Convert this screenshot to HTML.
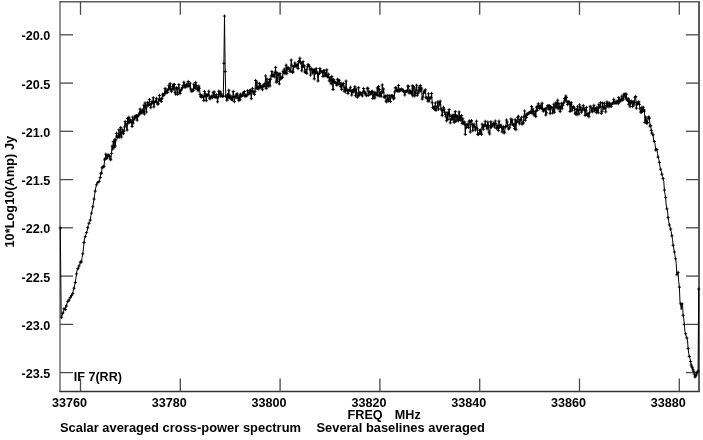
<!DOCTYPE html>
<html>
<head>
<meta charset="utf-8">
<title>Scalar averaged cross-power spectrum</title>
<style>
html,body{margin:0;padding:0;background:#fff;}
body{width:703px;height:440px;overflow:hidden;}
svg{display:block;will-change:transform;opacity:0.999;}
text{font-family:"Liberation Sans",sans-serif;font-weight:bold;font-size:12.6px;fill:#000;}
</style>
</head>
<body>
<svg width="703" height="440" viewBox="0 0 703 440">
<rect x="0" y="0" width="703" height="440" fill="#fff"/>
<!-- frame -->
<g fill="none" stroke="#5c5c5c" stroke-width="1.5">
<line x1="60" y1="1.8" x2="60" y2="391.4" stroke="#666" stroke-width="1.4"/>
<line x1="59.3" y1="1.8" x2="699.8" y2="1.8"/>
<line x1="699" y1="1.8" x2="699" y2="391.4" stroke-width="2"/>
<line x1="59.3" y1="391.4" x2="699.8" y2="391.4" stroke="#333"/>
</g>
<!-- ticks -->
<g fill="none" stroke="#4a4a4a" stroke-width="1.3">
<line x1="60" y1="34.8" x2="73" y2="34.8"/>
<line x1="686" y1="34.8" x2="699" y2="34.8"/>
<line x1="60" y1="83.1" x2="73" y2="83.1"/>
<line x1="686" y1="83.1" x2="699" y2="83.1"/>
<line x1="60" y1="131.3" x2="73" y2="131.3"/>
<line x1="686" y1="131.3" x2="699" y2="131.3"/>
<line x1="60" y1="179.6" x2="73" y2="179.6"/>
<line x1="686" y1="179.6" x2="699" y2="179.6"/>
<line x1="60" y1="227.8" x2="73" y2="227.8"/>
<line x1="686" y1="227.8" x2="699" y2="227.8"/>
<line x1="60" y1="276.1" x2="73" y2="276.1"/>
<line x1="686" y1="276.1" x2="699" y2="276.1"/>
<line x1="60" y1="324.4" x2="73" y2="324.4"/>
<line x1="686" y1="324.4" x2="699" y2="324.4"/>
<line x1="60" y1="372.6" x2="73" y2="372.6"/>
<line x1="686" y1="372.6" x2="699" y2="372.6"/>
<line x1="80.5" y1="1.8" x2="80.5" y2="14.8"/>
<line x1="80.5" y1="378.5" x2="80.5" y2="391.4"/>
<line x1="180.3" y1="1.8" x2="180.3" y2="14.8"/>
<line x1="180.3" y1="378.5" x2="180.3" y2="391.4"/>
<line x1="280.1" y1="1.8" x2="280.1" y2="14.8"/>
<line x1="280.1" y1="378.5" x2="280.1" y2="391.4"/>
<line x1="379.9" y1="1.8" x2="379.9" y2="14.8"/>
<line x1="379.9" y1="378.5" x2="379.9" y2="391.4"/>
<line x1="479.7" y1="1.8" x2="479.7" y2="14.8"/>
<line x1="479.7" y1="378.5" x2="479.7" y2="391.4"/>
<line x1="579.5" y1="1.8" x2="579.5" y2="14.8"/>
<line x1="579.5" y1="378.5" x2="579.5" y2="391.4"/>
<line x1="679.3" y1="1.8" x2="679.3" y2="14.8"/>
<line x1="679.3" y1="378.5" x2="679.3" y2="391.4"/>
</g>
<!-- data -->
<path d="M60.3,228.0 L61.2,317.2 L61.5,317.2 L62.2,315.3 L62.8,313.0 L63.4,313.5 L64.0,308.7 L64.7,309.3 L65.3,309.4 L65.9,305.1 L66.5,306.0 L67.2,302.7 L67.8,301.4 L68.4,302.1 L69.0,300.0 L69.7,298.5 L70.3,297.6 L70.9,295.7 L71.5,295.6 L72.2,294.5 L72.8,293.6 L73.4,289.9 L74.0,288.2 L74.7,284.8 L75.3,282.5 L75.9,278.2 L76.5,273.9 L77.1,270.0 L77.8,268.7 L78.4,269.4 L79.0,265.9 L79.6,265.5 L80.3,262.1 L80.9,260.7 L81.5,261.9 L82.1,257.5 L82.8,253.8 L83.4,249.0 L84.0,242.5 L84.6,238.2 L85.3,236.7 L85.9,234.5 L86.5,232.6 L87.1,231.0 L87.8,227.7 L88.4,224.5 L89.0,223.3 L89.6,221.9 L90.3,220.0 L90.9,215.4 L91.5,213.1 L92.1,210.0 L92.8,206.8 L93.4,203.0 L94.0,199.1 L94.6,194.6 L95.2,191.1 L95.9,187.0 L96.5,184.8 L97.1,183.8 L97.7,182.6 L98.4,182.3 L99.0,181.5 L99.6,180.3 L100.2,177.6 L100.9,173.4 L101.5,172.9 L102.1,167.8 L102.7,167.2 L103.4,166.4 L104.0,166.6 L104.6,159.9 L105.2,158.6 L105.9,154.1 L106.5,158.2 L107.1,157.9 L107.7,155.5 L108.4,155.2 L109.0,155.3 L109.6,156.4 L110.2,159.0 L110.8,159.8 L111.5,153.4 L112.1,146.1 L112.7,149.1 L113.3,141.7 L114.0,147.6 L114.6,139.8 L115.2,146.0 L115.8,139.9 L116.5,133.3 L117.1,136.2 L117.7,137.3 L118.3,136.7 L119.0,129.7 L119.6,137.1 L120.2,134.9 L120.8,127.5 L121.5,137.0 L122.1,132.2 L122.7,129.9 L123.3,133.7 L124.0,131.1 L124.6,126.9 L125.2,121.5 L125.8,123.7 L126.4,125.7 L127.1,130.1 L127.7,118.5 L128.3,123.0 L128.9,117.2 L129.6,122.1 L130.2,119.7 L130.8,122.0 L131.4,121.4 L132.1,126.5 L132.7,117.1 L133.3,123.0 L133.9,119.6 L134.6,118.0 L135.2,116.0 L135.8,117.1 L136.4,115.6 L137.1,120.2 L137.7,116.7 L138.3,115.2 L138.9,114.7 L139.6,112.8 L140.2,109.0 L140.8,113.6 L141.4,112.0 L142.1,111.1 L142.7,110.0 L143.3,113.0 L143.9,105.2 L144.5,114.0 L145.2,102.9 L145.8,107.1 L146.4,112.0 L147.0,105.3 L147.7,102.4 L148.3,105.5 L148.9,105.0 L149.5,99.5 L150.2,104.6 L150.8,107.7 L151.4,103.7 L152.0,101.5 L152.7,102.8 L153.3,97.7 L153.9,106.9 L154.5,102.7 L155.2,101.3 L155.8,101.4 L156.4,98.3 L157.0,102.5 L157.7,104.2 L158.3,103.7 L158.9,99.7 L159.5,95.5 L160.1,100.8 L160.8,99.3 L161.4,101.4 L162.0,98.4 L162.6,94.2 L163.3,95.6 L163.9,95.0 L164.5,93.4 L165.1,88.4 L165.8,93.2 L166.4,91.8 L167.0,90.0 L167.6,92.5 L168.3,89.2 L168.9,85.4 L169.5,88.9 L170.1,83.6 L170.8,89.1 L171.4,91.6 L172.0,89.6 L172.6,86.6 L173.3,84.5 L173.9,89.3 L174.5,84.5 L175.1,92.4 L175.7,94.2 L176.4,87.8 L177.0,88.5 L177.6,94.3 L178.2,88.2 L178.9,84.6 L179.5,92.3 L180.1,93.6 L180.7,90.4 L181.4,89.8 L182.0,88.0 L182.6,87.6 L183.2,85.5 L183.9,82.2 L184.5,85.4 L185.1,87.6 L185.7,86.1 L186.4,84.3 L187.0,86.6 L187.6,85.0 L188.2,81.5 L188.9,86.1 L189.5,86.0 L190.1,83.1 L190.7,88.9 L191.3,91.0 L192.0,91.2 L192.6,90.0 L193.2,90.6 L193.8,84.2 L194.5,86.3 L195.1,88.7 L195.7,82.5 L196.3,85.5 L197.0,87.8 L197.6,89.4 L198.2,90.8 L198.8,86.0 L199.5,88.2 L200.1,94.6 L200.7,96.3 L201.3,97.2 L202.0,95.3 L202.6,96.5 L203.2,96.9 L203.8,100.6 L204.5,91.5 L205.1,93.9 L205.7,96.1 L206.3,100.7 L207.0,94.6 L207.6,95.4 L208.2,95.2 L208.8,91.2 L209.4,98.0 L210.1,98.9 L210.7,97.6 L211.3,96.1 L211.9,96.5 L212.6,97.7 L213.2,92.3 L213.8,96.3 L214.4,92.0 L215.1,97.3 L215.7,96.9 L216.3,94.6 L216.9,97.3 L217.6,101.8 L218.2,96.9 L218.8,91.2 L219.4,94.6 L220.1,91.7 L220.7,96.2 L221.3,93.9 L221.9,95.7 L222.6,96.4 L223.3,96.0 L223.9,63.4 L224.5,16.1 L225.2,71.6 L225.8,96.4 L226.3,96.7 L226.9,100.3 L227.5,94.7 L228.2,97.9 L228.8,90.2 L229.4,97.7 L230.0,95.3 L230.7,97.4 L231.3,99.4 L231.9,97.0 L232.5,99.8 L233.2,91.5 L233.8,96.4 L234.4,101.7 L235.0,97.0 L235.7,96.5 L236.3,94.1 L236.9,97.8 L237.5,94.0 L238.2,98.3 L238.8,100.6 L239.4,95.9 L240.0,99.8 L240.6,94.2 L241.3,96.3 L241.9,95.6 L242.5,95.5 L243.1,93.0 L243.8,93.3 L244.4,91.5 L245.0,96.5 L245.6,95.3 L246.3,95.7 L246.9,95.8 L247.5,90.8 L248.1,94.1 L248.8,93.4 L249.4,90.6 L250.0,93.8 L250.6,90.2 L251.3,98.7 L251.9,91.6 L252.5,88.4 L253.1,91.5 L253.8,93.0 L254.4,94.4 L255.0,91.3 L255.6,80.5 L256.3,88.3 L256.9,82.1 L257.5,88.4 L258.1,86.8 L258.7,89.0 L259.4,83.5 L260.0,87.6 L260.6,85.5 L261.2,86.8 L261.9,87.9 L262.5,89.7 L263.1,85.0 L263.7,86.2 L264.4,84.0 L265.0,86.3 L265.6,75.9 L266.2,88.6 L266.9,78.9 L267.5,83.7 L268.1,86.7 L268.7,82.8 L269.4,79.5 L270.0,85.9 L270.6,79.3 L271.2,76.0 L271.9,71.5 L272.5,75.7 L273.1,75.9 L273.7,74.5 L274.3,76.8 L275.0,72.6 L275.6,67.4 L276.2,82.2 L276.8,72.5 L277.5,81.6 L278.1,74.6 L278.7,74.2 L279.3,83.9 L280.0,73.6 L280.6,79.1 L281.2,78.1 L281.8,77.1 L282.5,77.3 L283.1,71.2 L283.7,72.8 L284.3,69.1 L285.0,73.7 L285.6,72.4 L286.2,65.1 L286.8,73.7 L287.5,68.0 L288.1,68.3 L288.7,68.0 L289.3,69.8 L289.9,71.4 L290.6,71.1 L291.2,60.0 L291.8,65.2 L292.4,72.4 L293.1,72.0 L293.7,66.5 L294.3,66.2 L294.9,62.9 L295.6,65.6 L296.2,66.8 L296.8,65.4 L297.4,64.3 L298.1,68.6 L298.7,61.5 L299.3,61.0 L299.9,58.2 L300.6,62.9 L301.2,62.9 L301.8,70.8 L302.4,66.7 L303.1,61.7 L303.7,66.6 L304.3,65.8 L304.9,72.0 L305.6,72.5 L306.2,69.4 L306.8,73.4 L307.4,66.8 L308.0,64.6 L308.7,65.1 L309.3,66.4 L309.9,69.2 L310.5,75.1 L311.2,68.3 L311.8,69.6 L312.4,73.0 L313.0,69.6 L313.7,71.4 L314.3,78.9 L314.9,69.6 L315.5,73.1 L316.2,68.6 L316.8,71.8 L317.4,73.6 L318.0,81.0 L318.7,74.1 L319.3,73.4 L319.9,68.5 L320.5,71.1 L321.2,71.7 L321.8,71.2 L322.4,72.3 L323.0,76.5 L323.6,70.8 L324.3,70.6 L324.9,75.9 L325.5,73.3 L326.1,75.6 L326.8,69.8 L327.4,76.4 L328.0,77.2 L328.6,74.2 L329.3,81.0 L329.9,77.6 L330.5,79.6 L331.1,83.8 L331.8,76.4 L332.4,80.8 L333.0,89.5 L333.6,79.4 L334.3,81.3 L334.9,82.5 L335.5,82.6 L336.1,83.3 L336.8,85.2 L337.4,79.3 L338.0,84.4 L338.6,80.4 L339.2,80.2 L339.9,84.0 L340.5,86.7 L341.1,83.0 L341.7,89.4 L342.4,84.7 L343.0,85.3 L343.6,83.4 L344.2,91.2 L344.9,87.4 L345.5,91.8 L346.1,81.0 L346.7,89.4 L347.4,90.3 L348.0,93.5 L348.6,91.2 L349.2,89.8 L349.9,90.5 L350.5,87.3 L351.1,91.0 L351.7,95.1 L352.4,90.7 L353.0,92.3 L353.6,89.5 L354.2,91.0 L354.9,86.7 L355.5,95.7 L356.1,89.0 L356.7,93.1 L357.3,97.2 L358.0,95.8 L358.6,87.7 L359.2,95.2 L359.8,92.7 L360.5,93.0 L361.1,94.0 L361.7,94.3 L362.3,96.0 L363.0,92.1 L363.6,88.5 L364.2,91.3 L364.8,93.6 L365.5,93.5 L366.1,95.2 L366.7,95.7 L367.3,88.2 L368.0,88.4 L368.6,95.2 L369.2,91.5 L369.8,94.1 L370.5,93.4 L371.1,94.1 L371.7,91.5 L372.3,91.3 L372.9,98.5 L373.6,95.4 L374.2,92.3 L374.8,98.0 L375.4,93.0 L376.1,94.7 L376.7,94.3 L377.3,87.9 L377.9,95.7 L378.6,86.5 L379.2,89.5 L379.8,96.1 L380.4,92.5 L381.1,96.3 L381.7,92.3 L382.3,84.9 L382.9,92.6 L383.6,88.9 L384.2,97.3 L384.8,96.9 L385.4,96.1 L386.1,101.2 L386.7,101.9 L387.3,95.4 L387.9,99.1 L388.5,100.9 L389.2,95.5 L389.8,98.7 L390.4,101.4 L391.0,95.8 L391.7,95.7 L392.3,97.1 L392.9,95.4 L393.5,98.9 L394.2,98.0 L394.8,91.9 L395.4,87.8 L396.0,87.7 L396.7,90.6 L397.3,89.9 L397.9,91.4 L398.5,85.5 L399.2,91.2 L399.8,89.5 L400.4,89.8 L401.0,90.2 L401.7,89.1 L402.3,90.2 L402.9,90.0 L403.5,91.1 L404.1,92.0 L404.8,95.0 L405.4,91.6 L406.0,91.2 L406.6,91.2 L407.3,91.3 L407.9,85.9 L408.5,86.5 L409.1,93.1 L409.8,90.4 L410.4,92.3 L411.0,91.7 L411.6,93.9 L412.3,85.8 L412.9,95.9 L413.5,86.5 L414.1,87.8 L414.8,95.9 L415.4,92.9 L416.0,90.0 L416.6,85.2 L417.3,95.3 L417.9,93.4 L418.5,91.0 L419.1,87.2 L419.8,91.6 L420.4,85.5 L421.0,89.8 L421.6,88.1 L422.2,99.1 L422.9,97.0 L423.5,93.4 L424.1,91.2 L424.7,91.4 L425.4,89.8 L426.0,97.9 L426.6,97.7 L427.2,98.0 L427.9,101.1 L428.5,93.8 L429.1,101.1 L429.7,98.0 L430.4,98.1 L431.0,97.6 L431.6,93.4 L432.2,102.8 L432.9,107.5 L433.5,108.5 L434.1,106.7 L434.7,109.3 L435.4,103.0 L436.0,110.4 L436.6,107.1 L437.2,107.5 L437.8,101.8 L438.5,109.2 L439.1,102.2 L439.7,104.8 L440.3,101.2 L441.0,108.7 L441.6,110.0 L442.2,115.6 L442.8,110.5 L443.5,107.3 L444.1,109.1 L444.7,112.2 L445.3,114.5 L446.0,116.7 L446.6,120.8 L447.2,112.6 L447.8,119.4 L448.5,113.6 L449.1,109.6 L449.7,115.0 L450.3,122.9 L451.0,119.4 L451.6,116.5 L452.2,115.4 L452.8,119.6 L453.4,115.1 L454.1,122.3 L454.7,115.9 L455.3,111.6 L455.9,121.4 L456.6,115.9 L457.2,116.0 L457.8,119.7 L458.4,120.7 L459.1,111.9 L459.7,118.8 L460.3,117.1 L460.9,120.6 L461.6,115.6 L462.2,123.5 L462.8,118.7 L463.4,122.7 L464.1,124.1 L464.7,122.0 L465.3,134.4 L465.9,124.5 L466.6,127.5 L467.2,125.0 L467.8,124.0 L468.4,127.4 L469.1,121.3 L469.7,121.0 L470.3,132.1 L470.9,121.6 L471.5,120.6 L472.2,124.5 L472.8,130.7 L473.4,126.2 L474.0,124.1 L474.7,126.8 L475.3,130.1 L475.9,127.7 L476.5,121.2 L477.2,128.7 L477.8,134.5 L478.4,134.3 L479.0,133.6 L479.7,130.6 L480.3,129.9 L480.9,133.2 L481.5,134.4 L482.2,124.2 L482.8,127.4 L483.4,129.2 L484.0,125.3 L484.7,125.4 L485.3,121.3 L485.9,125.4 L486.5,126.7 L487.1,128.9 L487.8,122.0 L488.4,125.5 L489.0,132.1 L489.6,134.0 L490.3,127.0 L490.9,121.7 L491.5,127.1 L492.1,125.3 L492.8,125.4 L493.4,123.4 L494.0,123.4 L494.6,127.0 L495.3,121.0 L495.9,123.9 L496.5,128.2 L497.1,127.9 L497.8,125.8 L498.4,130.4 L499.0,121.1 L499.6,127.5 L500.3,125.6 L500.9,125.1 L501.5,127.0 L502.1,131.9 L502.7,128.6 L503.4,126.8 L504.0,132.9 L504.6,132.1 L505.2,127.0 L505.9,126.6 L506.5,120.0 L507.1,122.0 L507.7,125.3 L508.4,129.0 L509.0,127.7 L509.6,127.8 L510.2,124.8 L510.9,119.0 L511.5,122.2 L512.1,119.9 L512.7,124.1 L513.4,125.4 L514.0,124.3 L514.6,128.7 L515.2,119.4 L515.9,129.7 L516.5,121.5 L517.1,121.9 L517.7,117.4 L518.4,116.3 L519.0,122.1 L519.6,123.8 L520.2,119.6 L520.8,120.0 L521.5,117.3 L522.1,124.2 L522.7,122.8 L523.3,123.0 L524.0,116.6 L524.6,111.0 L525.2,120.3 L525.8,115.6 L526.5,117.3 L527.1,113.8 L527.7,114.5 L528.3,113.6 L529.0,112.8 L529.6,112.7 L530.2,112.1 L530.8,112.3 L531.5,106.5 L532.1,113.3 L532.7,108.8 L533.3,111.0 L534.0,115.0 L534.6,114.8 L535.2,111.4 L535.8,116.6 L536.4,107.1 L537.1,110.5 L537.7,106.5 L538.3,103.8 L538.9,107.3 L539.6,108.7 L540.2,105.4 L540.8,107.4 L541.4,108.5 L542.1,103.2 L542.7,108.8 L543.3,111.2 L543.9,110.0 L544.6,109.5 L545.2,108.8 L545.8,115.0 L546.4,112.8 L547.1,107.7 L547.7,105.7 L548.3,105.9 L548.9,109.2 L549.6,105.6 L550.2,113.7 L550.8,106.9 L551.4,107.8 L552.0,107.6 L552.7,113.0 L553.3,110.8 L553.9,104.2 L554.5,112.2 L555.2,106.7 L555.8,103.0 L556.4,103.2 L557.0,107.9 L557.7,100.2 L558.3,108.8 L558.9,103.6 L559.5,107.7 L560.2,111.6 L560.8,106.7 L561.4,103.3 L562.0,108.8 L562.7,105.6 L563.3,103.7 L563.9,102.3 L564.5,98.6 L565.2,100.4 L565.8,96.0 L566.4,97.5 L567.0,101.8 L567.7,104.6 L568.3,101.7 L568.9,102.4 L569.5,102.2 L570.1,111.5 L570.8,104.4 L571.4,102.7 L572.0,110.6 L572.6,107.8 L573.3,106.6 L573.9,107.4 L574.5,108.8 L575.1,113.2 L575.8,114.1 L576.4,109.6 L577.0,114.7 L577.6,106.7 L578.3,110.3 L578.9,114.1 L579.5,104.8 L580.1,109.4 L580.8,107.3 L581.4,112.2 L582.0,110.3 L582.6,110.0 L583.3,105.5 L583.9,108.1 L584.5,109.6 L585.1,115.4 L585.7,110.5 L586.4,107.4 L587.0,114.6 L587.6,115.3 L588.2,113.7 L588.9,116.8 L589.5,112.8 L590.1,106.4 L590.7,106.8 L591.4,111.0 L592.0,108.4 L592.6,111.7 L593.2,108.2 L593.9,105.3 L594.5,110.8 L595.1,108.7 L595.7,109.0 L596.4,112.7 L597.0,107.2 L597.6,110.7 L598.2,112.7 L598.9,104.3 L599.5,107.1 L600.1,106.7 L600.7,102.6 L601.3,113.4 L602.0,111.6 L602.6,103.1 L603.2,107.1 L603.8,109.0 L604.5,103.3 L605.1,107.8 L605.7,111.9 L606.3,105.6 L607.0,101.9 L607.6,106.1 L608.2,103.3 L608.8,106.8 L609.5,103.1 L610.1,106.4 L610.7,104.4 L611.3,106.2 L612.0,103.5 L612.6,103.3 L613.2,103.4 L613.8,99.3 L614.5,103.0 L615.1,102.2 L615.7,102.9 L616.3,103.0 L616.9,101.0 L617.6,101.6 L618.2,103.7 L618.8,97.6 L619.4,101.8 L620.1,99.4 L620.7,101.0 L621.3,99.9 L621.9,96.1 L622.6,100.0 L623.2,99.2 L623.8,94.3 L624.4,95.9 L625.1,93.8 L625.7,97.9 L626.3,94.2 L626.9,99.8 L627.6,100.5 L628.2,98.6 L628.8,104.3 L629.4,100.6 L630.1,106.7 L630.7,102.8 L631.3,101.0 L631.9,102.7 L632.6,106.5 L633.2,101.6 L633.8,105.0 L634.4,102.5 L635.0,97.3 L635.7,96.5 L636.3,108.2 L636.9,102.6 L637.5,104.1 L638.2,103.2 L638.8,101.7 L639.4,104.3 L640.0,108.8 L640.7,112.0 L641.3,112.2 L641.9,107.4 L642.5,111.6 L643.2,107.2 L643.8,109.5 L644.4,111.0 L645.0,122.5 L645.7,117.1 L646.3,120.3 L646.9,123.6 L647.5,122.5 L648.2,118.1 L648.8,116.9 L649.4,118.2 L650.0,126.2 L650.6,125.4 L651.3,130.4 L651.9,133.0 L652.5,135.3 L653.1,134.8 L653.8,142.0 L654.4,141.5 L655.0,143.7 L655.6,149.9 L656.3,148.3 L656.9,149.5 L657.5,153.6 L658.1,157.1 L658.8,159.4 L659.4,162.5 L660.0,166.8 L660.6,169.2 L661.3,171.3 L661.9,174.2 L662.5,176.4 L663.1,178.6 L663.8,181.6 L664.4,190.1 L665.0,194.4 L665.6,197.3 L666.2,205.1 L666.9,208.9 L667.5,210.8 L668.1,217.6 L668.7,221.3 L669.4,225.0 L670.0,226.5 L670.6,229.0 L671.2,231.4 L671.9,235.8 L672.5,239.2 L673.1,245.3 L673.7,248.1 L674.4,252.0 L675.0,255.8 L675.6,258.8 L676.2,263.3 L676.9,274.7 L677.5,273.9 L678.1,272.4 L678.7,281.5 L679.4,287.2 L680.0,302.2 L680.6,303.8 L681.2,309.6 L681.9,303.8 L682.5,303.4 L683.1,315.3 L683.7,318.5 L684.3,324.4 L685.0,331.8 L685.6,333.8 L686.2,336.4 L686.8,337.8 L687.5,340.0 L688.1,348.5 L688.7,353.2 L689.3,356.5 L690.0,358.4 L690.6,361.5 L691.2,365.0 L691.8,366.9 L692.5,367.9 L693.1,370.0 L693.7,371.3 L694.3,374.2 L695.0,377.0 L695.6,376.0 L696.2,374.9 L696.8,373.0 L697.5,371.9 L698.1,371.3 L698.7,289.0" fill="none" stroke="#000" stroke-width="1.0" stroke-linejoin="miter"/>
<path d="M58.7,228.0h3.2M60.3,226.4v3.2M59.9,317.2h3.2M61.5,315.6v3.2M61.2,313.0h3.2M62.8,311.4v3.2M62.4,308.7h3.2M64.0,307.1v3.2M63.7,309.4h3.2M65.3,307.8v3.2M64.9,306.0h3.2M66.5,304.4v3.2M66.2,301.4h3.2M67.8,299.8v3.2M67.4,300.0h3.2M69.0,298.4v3.2M68.7,297.6h3.2M70.3,296.0v3.2M69.9,295.6h3.2M71.5,294.0v3.2M71.2,293.6h3.2M72.8,292.0v3.2M72.4,288.2h3.2M74.0,286.6v3.2M73.7,282.5h3.2M75.3,280.9v3.2M74.9,273.9h3.2M76.5,272.3v3.2M76.2,268.7h3.2M77.8,267.1v3.2M77.4,265.9h3.2M79.0,264.3v3.2M78.7,262.1h3.2M80.3,260.5v3.2M79.9,261.9h3.2M81.5,260.3v3.2M81.2,253.8h3.2M82.8,252.2v3.2M82.4,242.5h3.2M84.0,240.9v3.2M83.7,236.7h3.2M85.3,235.1v3.2M84.9,232.6h3.2M86.5,231.0v3.2M86.2,227.7h3.2M87.8,226.1v3.2M87.4,223.3h3.2M89.0,221.7v3.2M88.7,220.0h3.2M90.3,218.4v3.2M89.9,213.1h3.2M91.5,211.5v3.2M91.2,206.8h3.2M92.8,205.2v3.2M92.4,199.1h3.2M94.0,197.5v3.2M93.6,191.1h3.2M95.2,189.5v3.2M94.9,184.8h3.2M96.5,183.2v3.2M96.1,182.6h3.2M97.7,181.0v3.2M97.4,181.5h3.2M99.0,179.9v3.2M98.6,177.6h3.2M100.2,176.0v3.2M99.3,173.4h3.2M100.9,171.8v3.2M99.9,172.9h3.2M101.5,171.3v3.2M100.5,167.8h3.2M102.1,166.2v3.2M101.1,167.2h3.2M102.7,165.6v3.2M101.8,166.4h3.2M103.4,164.8v3.2M102.4,166.6h3.2M104.0,165.0v3.2M103.0,159.9h3.2M104.6,158.3v3.2M103.6,158.6h3.2M105.2,157.0v3.2M104.3,154.1h3.2M105.9,152.5v3.2M104.9,158.2h3.2M106.5,156.6v3.2M105.5,157.9h3.2M107.1,156.3v3.2M106.1,155.5h3.2M107.7,153.9v3.2M106.8,155.2h3.2M108.4,153.6v3.2M107.4,155.3h3.2M109.0,153.7v3.2M108.0,156.4h3.2M109.6,154.8v3.2M108.6,159.0h3.2M110.2,157.4v3.2M109.2,159.8h3.2M110.8,158.2v3.2M109.9,153.4h3.2M111.5,151.8v3.2M110.5,146.1h3.2M112.1,144.5v3.2M111.1,149.1h3.2M112.7,147.5v3.2M111.7,141.7h3.2M113.3,140.1v3.2M112.4,147.6h3.2M114.0,146.0v3.2M113.0,139.8h3.2M114.6,138.2v3.2M113.6,146.0h3.2M115.2,144.4v3.2M114.2,139.9h3.2M115.8,138.3v3.2M114.9,133.3h3.2M116.5,131.7v3.2M115.5,136.2h3.2M117.1,134.6v3.2M116.1,137.3h3.2M117.7,135.7v3.2M116.7,136.7h3.2M118.3,135.1v3.2M117.4,129.7h3.2M119.0,128.1v3.2M118.0,137.1h3.2M119.6,135.5v3.2M118.6,134.9h3.2M120.2,133.3v3.2M119.2,127.5h3.2M120.8,125.9v3.2M119.9,137.0h3.2M121.5,135.4v3.2M120.5,132.2h3.2M122.1,130.6v3.2M121.1,129.9h3.2M122.7,128.3v3.2M121.7,133.7h3.2M123.3,132.1v3.2M122.4,131.1h3.2M124.0,129.5v3.2M123.0,126.9h3.2M124.6,125.3v3.2M123.6,121.5h3.2M125.2,119.9v3.2M124.2,123.7h3.2M125.8,122.1v3.2M124.8,125.7h3.2M126.4,124.1v3.2M125.5,130.1h3.2M127.1,128.5v3.2M126.1,118.5h3.2M127.7,116.9v3.2M126.7,123.0h3.2M128.3,121.4v3.2M127.3,117.2h3.2M128.9,115.6v3.2M128.0,122.1h3.2M129.6,120.5v3.2M128.6,119.7h3.2M130.2,118.1v3.2M129.2,122.0h3.2M130.8,120.4v3.2M129.8,121.4h3.2M131.4,119.8v3.2M130.5,126.5h3.2M132.1,124.9v3.2M131.1,117.1h3.2M132.7,115.5v3.2M131.7,123.0h3.2M133.3,121.4v3.2M132.3,119.6h3.2M133.9,118.0v3.2M133.0,118.0h3.2M134.6,116.4v3.2M133.6,116.0h3.2M135.2,114.4v3.2M134.2,117.1h3.2M135.8,115.5v3.2M134.8,115.6h3.2M136.4,114.0v3.2M135.5,120.2h3.2M137.1,118.6v3.2M136.1,116.7h3.2M137.7,115.1v3.2M136.7,115.2h3.2M138.3,113.6v3.2M137.3,114.7h3.2M138.9,113.1v3.2M138.0,112.8h3.2M139.6,111.2v3.2M138.6,109.0h3.2M140.2,107.4v3.2M139.2,113.6h3.2M140.8,112.0v3.2M139.8,112.0h3.2M141.4,110.4v3.2M140.5,111.1h3.2M142.1,109.5v3.2M141.1,110.0h3.2M142.7,108.4v3.2M141.7,113.0h3.2M143.3,111.4v3.2M142.3,105.2h3.2M143.9,103.6v3.2M142.9,114.0h3.2M144.5,112.4v3.2M143.6,102.9h3.2M145.2,101.3v3.2M144.2,107.1h3.2M145.8,105.5v3.2M144.8,112.0h3.2M146.4,110.4v3.2M145.4,105.3h3.2M147.0,103.7v3.2M146.1,102.4h3.2M147.7,100.8v3.2M146.7,105.5h3.2M148.3,103.9v3.2M147.3,105.0h3.2M148.9,103.4v3.2M147.9,99.5h3.2M149.5,97.9v3.2M148.6,104.6h3.2M150.2,103.0v3.2M149.2,107.7h3.2M150.8,106.1v3.2M149.8,103.7h3.2M151.4,102.1v3.2M150.4,101.5h3.2M152.0,99.9v3.2M151.1,102.8h3.2M152.7,101.2v3.2M151.7,97.7h3.2M153.3,96.1v3.2M152.3,106.9h3.2M153.9,105.3v3.2M152.9,102.7h3.2M154.5,101.1v3.2M153.6,101.3h3.2M155.2,99.7v3.2M154.2,101.4h3.2M155.8,99.8v3.2M154.8,98.3h3.2M156.4,96.7v3.2M155.4,102.5h3.2M157.0,100.9v3.2M156.1,104.2h3.2M157.7,102.6v3.2M156.7,103.7h3.2M158.3,102.1v3.2M157.3,99.7h3.2M158.9,98.1v3.2M157.9,95.5h3.2M159.5,93.9v3.2M158.5,100.8h3.2M160.1,99.2v3.2M159.2,99.3h3.2M160.8,97.7v3.2M159.8,101.4h3.2M161.4,99.8v3.2M160.4,98.4h3.2M162.0,96.8v3.2M161.0,94.2h3.2M162.6,92.6v3.2M161.7,95.6h3.2M163.3,94.0v3.2M162.3,95.0h3.2M163.9,93.4v3.2M162.9,93.4h3.2M164.5,91.8v3.2M163.5,88.4h3.2M165.1,86.8v3.2M164.2,93.2h3.2M165.8,91.6v3.2M164.8,91.8h3.2M166.4,90.2v3.2M165.4,90.0h3.2M167.0,88.4v3.2M166.0,92.5h3.2M167.6,90.9v3.2M166.7,89.2h3.2M168.3,87.6v3.2M167.3,85.4h3.2M168.9,83.8v3.2M167.9,88.9h3.2M169.5,87.3v3.2M168.5,83.6h3.2M170.1,82.0v3.2M169.2,89.1h3.2M170.8,87.5v3.2M169.8,91.6h3.2M171.4,90.0v3.2M170.4,89.6h3.2M172.0,88.0v3.2M171.0,86.6h3.2M172.6,85.0v3.2M171.7,84.5h3.2M173.3,82.9v3.2M172.3,89.3h3.2M173.9,87.7v3.2M172.9,84.5h3.2M174.5,82.9v3.2M173.5,92.4h3.2M175.1,90.8v3.2M174.1,94.2h3.2M175.7,92.6v3.2M174.8,87.8h3.2M176.4,86.2v3.2M175.4,88.5h3.2M177.0,86.9v3.2M176.0,94.3h3.2M177.6,92.7v3.2M176.6,88.2h3.2M178.2,86.6v3.2M177.3,84.6h3.2M178.9,83.0v3.2M177.9,92.3h3.2M179.5,90.7v3.2M178.5,93.6h3.2M180.1,92.0v3.2M179.1,90.4h3.2M180.7,88.8v3.2M179.8,89.8h3.2M181.4,88.2v3.2M180.4,88.0h3.2M182.0,86.4v3.2M181.0,87.6h3.2M182.6,86.0v3.2M181.6,85.5h3.2M183.2,83.9v3.2M182.3,82.2h3.2M183.9,80.6v3.2M182.9,85.4h3.2M184.5,83.8v3.2M183.5,87.6h3.2M185.1,86.0v3.2M184.1,86.1h3.2M185.7,84.5v3.2M184.8,84.3h3.2M186.4,82.7v3.2M185.4,86.6h3.2M187.0,85.0v3.2M186.0,85.0h3.2M187.6,83.4v3.2M186.6,81.5h3.2M188.2,79.9v3.2M187.3,86.1h3.2M188.9,84.5v3.2M187.9,86.0h3.2M189.5,84.4v3.2M188.5,83.1h3.2M190.1,81.5v3.2M189.1,88.9h3.2M190.7,87.3v3.2M189.7,91.0h3.2M191.3,89.4v3.2M190.4,91.2h3.2M192.0,89.6v3.2M191.0,90.0h3.2M192.6,88.4v3.2M191.6,90.6h3.2M193.2,89.0v3.2M192.2,84.2h3.2M193.8,82.6v3.2M192.9,86.3h3.2M194.5,84.7v3.2M193.5,88.7h3.2M195.1,87.1v3.2M194.1,82.5h3.2M195.7,80.9v3.2M194.7,85.5h3.2M196.3,83.9v3.2M195.4,87.8h3.2M197.0,86.2v3.2M196.0,89.4h3.2M197.6,87.8v3.2M196.6,90.8h3.2M198.2,89.2v3.2M197.2,86.0h3.2M198.8,84.4v3.2M197.9,88.2h3.2M199.5,86.6v3.2M198.5,94.6h3.2M200.1,93.0v3.2M199.1,96.3h3.2M200.7,94.7v3.2M199.7,97.2h3.2M201.3,95.6v3.2M200.4,95.3h3.2M202.0,93.7v3.2M201.0,96.5h3.2M202.6,94.9v3.2M201.6,96.9h3.2M203.2,95.3v3.2M202.2,100.6h3.2M203.8,99.0v3.2M202.9,91.5h3.2M204.5,89.9v3.2M203.5,93.9h3.2M205.1,92.3v3.2M204.1,96.1h3.2M205.7,94.5v3.2M204.7,100.7h3.2M206.3,99.1v3.2M205.4,94.6h3.2M207.0,93.0v3.2M206.0,95.4h3.2M207.6,93.8v3.2M206.6,95.2h3.2M208.2,93.6v3.2M207.2,91.2h3.2M208.8,89.6v3.2M207.8,98.0h3.2M209.4,96.4v3.2M208.5,98.9h3.2M210.1,97.3v3.2M209.1,97.6h3.2M210.7,96.0v3.2M209.7,96.1h3.2M211.3,94.5v3.2M210.3,96.5h3.2M211.9,94.9v3.2M211.0,97.7h3.2M212.6,96.1v3.2M211.6,92.3h3.2M213.2,90.7v3.2M212.2,96.3h3.2M213.8,94.7v3.2M212.8,92.0h3.2M214.4,90.4v3.2M213.5,97.3h3.2M215.1,95.7v3.2M214.1,96.9h3.2M215.7,95.3v3.2M214.7,94.6h3.2M216.3,93.0v3.2M215.3,97.3h3.2M216.9,95.7v3.2M216.0,101.8h3.2M217.6,100.2v3.2M216.6,96.9h3.2M218.2,95.3v3.2M217.2,91.2h3.2M218.8,89.6v3.2M217.8,94.6h3.2M219.4,93.0v3.2M218.5,91.7h3.2M220.1,90.1v3.2M219.1,96.2h3.2M220.7,94.6v3.2M219.7,93.9h3.2M221.3,92.3v3.2M220.3,95.7h3.2M221.9,94.1v3.2M221.0,96.4h3.2M222.6,94.8v3.2M221.7,96.0h3.2M223.3,94.4v3.2M222.3,63.4h3.2M223.9,61.8v3.2M222.9,16.1h3.2M224.5,14.5v3.2M223.6,71.6h3.2M225.2,70.0v3.2M224.2,96.4h3.2M225.8,94.8v3.2M224.7,96.7h3.2M226.3,95.1v3.2M225.3,100.3h3.2M226.9,98.7v3.2M225.9,94.7h3.2M227.5,93.1v3.2M226.6,97.9h3.2M228.2,96.3v3.2M227.2,90.2h3.2M228.8,88.6v3.2M227.8,97.7h3.2M229.4,96.1v3.2M228.4,95.3h3.2M230.0,93.7v3.2M229.1,97.4h3.2M230.7,95.8v3.2M229.7,99.4h3.2M231.3,97.8v3.2M230.3,97.0h3.2M231.9,95.4v3.2M230.9,99.8h3.2M232.5,98.2v3.2M231.6,91.5h3.2M233.2,89.9v3.2M232.2,96.4h3.2M233.8,94.8v3.2M232.8,101.7h3.2M234.4,100.1v3.2M233.4,97.0h3.2M235.0,95.4v3.2M234.1,96.5h3.2M235.7,94.9v3.2M234.7,94.1h3.2M236.3,92.5v3.2M235.3,97.8h3.2M236.9,96.2v3.2M235.9,94.0h3.2M237.5,92.4v3.2M236.6,98.3h3.2M238.2,96.7v3.2M237.2,100.6h3.2M238.8,99.0v3.2M237.8,95.9h3.2M239.4,94.3v3.2M238.4,99.8h3.2M240.0,98.2v3.2M239.0,94.2h3.2M240.6,92.6v3.2M239.7,96.3h3.2M241.3,94.7v3.2M240.3,95.6h3.2M241.9,94.0v3.2M240.9,95.5h3.2M242.5,93.9v3.2M241.5,93.0h3.2M243.1,91.4v3.2M242.2,93.3h3.2M243.8,91.7v3.2M242.8,91.5h3.2M244.4,89.9v3.2M243.4,96.5h3.2M245.0,94.9v3.2M244.0,95.3h3.2M245.6,93.7v3.2M244.7,95.7h3.2M246.3,94.1v3.2M245.3,95.8h3.2M246.9,94.2v3.2M245.9,90.8h3.2M247.5,89.2v3.2M246.5,94.1h3.2M248.1,92.5v3.2M247.2,93.4h3.2M248.8,91.8v3.2M247.8,90.6h3.2M249.4,89.0v3.2M248.4,93.8h3.2M250.0,92.2v3.2M249.0,90.2h3.2M250.6,88.6v3.2M249.7,98.7h3.2M251.3,97.1v3.2M250.3,91.6h3.2M251.9,90.0v3.2M250.9,88.4h3.2M252.5,86.8v3.2M251.5,91.5h3.2M253.1,89.9v3.2M252.2,93.0h3.2M253.8,91.4v3.2M252.8,94.4h3.2M254.4,92.8v3.2M253.4,91.3h3.2M255.0,89.7v3.2M254.0,80.5h3.2M255.6,78.9v3.2M254.7,88.3h3.2M256.3,86.7v3.2M255.3,82.1h3.2M256.9,80.5v3.2M255.9,88.4h3.2M257.5,86.8v3.2M256.5,86.8h3.2M258.1,85.2v3.2M257.1,89.0h3.2M258.7,87.4v3.2M257.8,83.5h3.2M259.4,81.9v3.2M258.4,87.6h3.2M260.0,86.0v3.2M259.0,85.5h3.2M260.6,83.9v3.2M259.6,86.8h3.2M261.2,85.2v3.2M260.3,87.9h3.2M261.9,86.3v3.2M260.9,89.7h3.2M262.5,88.1v3.2M261.5,85.0h3.2M263.1,83.4v3.2M262.1,86.2h3.2M263.7,84.6v3.2M262.8,84.0h3.2M264.4,82.4v3.2M263.4,86.3h3.2M265.0,84.7v3.2M264.0,75.9h3.2M265.6,74.3v3.2M264.6,88.6h3.2M266.2,87.0v3.2M265.3,78.9h3.2M266.9,77.3v3.2M265.9,83.7h3.2M267.5,82.1v3.2M266.5,86.7h3.2M268.1,85.1v3.2M267.1,82.8h3.2M268.7,81.2v3.2M267.8,79.5h3.2M269.4,77.9v3.2M268.4,85.9h3.2M270.0,84.3v3.2M269.0,79.3h3.2M270.6,77.7v3.2M269.6,76.0h3.2M271.2,74.4v3.2M270.3,71.5h3.2M271.9,69.9v3.2M270.9,75.7h3.2M272.5,74.1v3.2M271.5,75.9h3.2M273.1,74.3v3.2M272.1,74.5h3.2M273.7,72.9v3.2M272.7,76.8h3.2M274.3,75.2v3.2M273.4,72.6h3.2M275.0,71.0v3.2M274.0,67.4h3.2M275.6,65.8v3.2M274.6,82.2h3.2M276.2,80.6v3.2M275.2,72.5h3.2M276.8,70.9v3.2M275.9,81.6h3.2M277.5,80.0v3.2M276.5,74.6h3.2M278.1,73.0v3.2M277.1,74.2h3.2M278.7,72.6v3.2M277.7,83.9h3.2M279.3,82.3v3.2M278.4,73.6h3.2M280.0,72.0v3.2M279.0,79.1h3.2M280.6,77.5v3.2M279.6,78.1h3.2M281.2,76.5v3.2M280.2,77.1h3.2M281.8,75.5v3.2M280.9,77.3h3.2M282.5,75.7v3.2M281.5,71.2h3.2M283.1,69.6v3.2M282.1,72.8h3.2M283.7,71.2v3.2M282.7,69.1h3.2M284.3,67.5v3.2M283.4,73.7h3.2M285.0,72.1v3.2M284.0,72.4h3.2M285.6,70.8v3.2M284.6,65.1h3.2M286.2,63.5v3.2M285.2,73.7h3.2M286.8,72.1v3.2M285.9,68.0h3.2M287.5,66.4v3.2M286.5,68.3h3.2M288.1,66.7v3.2M287.1,68.0h3.2M288.7,66.4v3.2M287.7,69.8h3.2M289.3,68.2v3.2M288.3,71.4h3.2M289.9,69.8v3.2M289.0,71.1h3.2M290.6,69.5v3.2M289.6,60.0h3.2M291.2,58.4v3.2M290.2,65.2h3.2M291.8,63.6v3.2M290.8,72.4h3.2M292.4,70.8v3.2M291.5,72.0h3.2M293.1,70.4v3.2M292.1,66.5h3.2M293.7,64.9v3.2M292.7,66.2h3.2M294.3,64.6v3.2M293.3,62.9h3.2M294.9,61.3v3.2M294.0,65.6h3.2M295.6,64.0v3.2M294.6,66.8h3.2M296.2,65.2v3.2M295.2,65.4h3.2M296.8,63.8v3.2M295.8,64.3h3.2M297.4,62.7v3.2M296.5,68.6h3.2M298.1,67.0v3.2M297.1,61.5h3.2M298.7,59.9v3.2M297.7,61.0h3.2M299.3,59.4v3.2M298.3,58.2h3.2M299.9,56.6v3.2M299.0,62.9h3.2M300.6,61.3v3.2M299.6,62.9h3.2M301.2,61.3v3.2M300.2,70.8h3.2M301.8,69.2v3.2M300.8,66.7h3.2M302.4,65.1v3.2M301.5,61.7h3.2M303.1,60.1v3.2M302.1,66.6h3.2M303.7,65.0v3.2M302.7,65.8h3.2M304.3,64.2v3.2M303.3,72.0h3.2M304.9,70.4v3.2M304.0,72.5h3.2M305.6,70.9v3.2M304.6,69.4h3.2M306.2,67.8v3.2M305.2,73.4h3.2M306.8,71.8v3.2M305.8,66.8h3.2M307.4,65.2v3.2M306.4,64.6h3.2M308.0,63.0v3.2M307.1,65.1h3.2M308.7,63.5v3.2M307.7,66.4h3.2M309.3,64.8v3.2M308.3,69.2h3.2M309.9,67.6v3.2M308.9,75.1h3.2M310.5,73.5v3.2M309.6,68.3h3.2M311.2,66.7v3.2M310.2,69.6h3.2M311.8,68.0v3.2M310.8,73.0h3.2M312.4,71.4v3.2M311.4,69.6h3.2M313.0,68.0v3.2M312.1,71.4h3.2M313.7,69.8v3.2M312.7,78.9h3.2M314.3,77.3v3.2M313.3,69.6h3.2M314.9,68.0v3.2M313.9,73.1h3.2M315.5,71.5v3.2M314.6,68.6h3.2M316.2,67.0v3.2M315.2,71.8h3.2M316.8,70.2v3.2M315.8,73.6h3.2M317.4,72.0v3.2M316.4,81.0h3.2M318.0,79.4v3.2M317.1,74.1h3.2M318.7,72.5v3.2M317.7,73.4h3.2M319.3,71.8v3.2M318.3,68.5h3.2M319.9,66.9v3.2M318.9,71.1h3.2M320.5,69.5v3.2M319.6,71.7h3.2M321.2,70.1v3.2M320.2,71.2h3.2M321.8,69.6v3.2M320.8,72.3h3.2M322.4,70.7v3.2M321.4,76.5h3.2M323.0,74.9v3.2M322.0,70.8h3.2M323.6,69.2v3.2M322.7,70.6h3.2M324.3,69.0v3.2M323.3,75.9h3.2M324.9,74.3v3.2M323.9,73.3h3.2M325.5,71.7v3.2M324.5,75.6h3.2M326.1,74.0v3.2M325.2,69.8h3.2M326.8,68.2v3.2M325.8,76.4h3.2M327.4,74.8v3.2M326.4,77.2h3.2M328.0,75.6v3.2M327.0,74.2h3.2M328.6,72.6v3.2M327.7,81.0h3.2M329.3,79.4v3.2M328.3,77.6h3.2M329.9,76.0v3.2M328.9,79.6h3.2M330.5,78.0v3.2M329.5,83.8h3.2M331.1,82.2v3.2M330.2,76.4h3.2M331.8,74.8v3.2M330.8,80.8h3.2M332.4,79.2v3.2M331.4,89.5h3.2M333.0,87.9v3.2M332.0,79.4h3.2M333.6,77.8v3.2M332.7,81.3h3.2M334.3,79.7v3.2M333.3,82.5h3.2M334.9,80.9v3.2M333.9,82.6h3.2M335.5,81.0v3.2M334.5,83.3h3.2M336.1,81.7v3.2M335.2,85.2h3.2M336.8,83.6v3.2M335.8,79.3h3.2M337.4,77.7v3.2M336.4,84.4h3.2M338.0,82.8v3.2M337.0,80.4h3.2M338.6,78.8v3.2M337.6,80.2h3.2M339.2,78.6v3.2M338.3,84.0h3.2M339.9,82.4v3.2M338.9,86.7h3.2M340.5,85.1v3.2M339.5,83.0h3.2M341.1,81.4v3.2M340.1,89.4h3.2M341.7,87.8v3.2M340.8,84.7h3.2M342.4,83.1v3.2M341.4,85.3h3.2M343.0,83.7v3.2M342.0,83.4h3.2M343.6,81.8v3.2M342.6,91.2h3.2M344.2,89.6v3.2M343.3,87.4h3.2M344.9,85.8v3.2M343.9,91.8h3.2M345.5,90.2v3.2M344.5,81.0h3.2M346.1,79.4v3.2M345.1,89.4h3.2M346.7,87.8v3.2M345.8,90.3h3.2M347.4,88.7v3.2M346.4,93.5h3.2M348.0,91.9v3.2M347.0,91.2h3.2M348.6,89.6v3.2M347.6,89.8h3.2M349.2,88.2v3.2M348.3,90.5h3.2M349.9,88.9v3.2M348.9,87.3h3.2M350.5,85.7v3.2M349.5,91.0h3.2M351.1,89.4v3.2M350.1,95.1h3.2M351.7,93.5v3.2M350.8,90.7h3.2M352.4,89.1v3.2M351.4,92.3h3.2M353.0,90.7v3.2M352.0,89.5h3.2M353.6,87.9v3.2M352.6,91.0h3.2M354.2,89.4v3.2M353.3,86.7h3.2M354.9,85.1v3.2M353.9,95.7h3.2M355.5,94.1v3.2M354.5,89.0h3.2M356.1,87.4v3.2M355.1,93.1h3.2M356.7,91.5v3.2M355.7,97.2h3.2M357.3,95.6v3.2M356.4,95.8h3.2M358.0,94.2v3.2M357.0,87.7h3.2M358.6,86.1v3.2M357.6,95.2h3.2M359.2,93.6v3.2M358.2,92.7h3.2M359.8,91.1v3.2M358.9,93.0h3.2M360.5,91.4v3.2M359.5,94.0h3.2M361.1,92.4v3.2M360.1,94.3h3.2M361.7,92.7v3.2M360.7,96.0h3.2M362.3,94.4v3.2M361.4,92.1h3.2M363.0,90.5v3.2M362.0,88.5h3.2M363.6,86.9v3.2M362.6,91.3h3.2M364.2,89.7v3.2M363.2,93.6h3.2M364.8,92.0v3.2M363.9,93.5h3.2M365.5,91.9v3.2M364.5,95.2h3.2M366.1,93.6v3.2M365.1,95.7h3.2M366.7,94.1v3.2M365.7,88.2h3.2M367.3,86.6v3.2M366.4,88.4h3.2M368.0,86.8v3.2M367.0,95.2h3.2M368.6,93.6v3.2M367.6,91.5h3.2M369.2,89.9v3.2M368.2,94.1h3.2M369.8,92.5v3.2M368.9,93.4h3.2M370.5,91.8v3.2M369.5,94.1h3.2M371.1,92.5v3.2M370.1,91.5h3.2M371.7,89.9v3.2M370.7,91.3h3.2M372.3,89.7v3.2M371.3,98.5h3.2M372.9,96.9v3.2M372.0,95.4h3.2M373.6,93.8v3.2M372.6,92.3h3.2M374.2,90.7v3.2M373.2,98.0h3.2M374.8,96.4v3.2M373.8,93.0h3.2M375.4,91.4v3.2M374.5,94.7h3.2M376.1,93.1v3.2M375.1,94.3h3.2M376.7,92.7v3.2M375.7,87.9h3.2M377.3,86.3v3.2M376.3,95.7h3.2M377.9,94.1v3.2M377.0,86.5h3.2M378.6,84.9v3.2M377.6,89.5h3.2M379.2,87.9v3.2M378.2,96.1h3.2M379.8,94.5v3.2M378.8,92.5h3.2M380.4,90.9v3.2M379.5,96.3h3.2M381.1,94.7v3.2M380.1,92.3h3.2M381.7,90.7v3.2M380.7,84.9h3.2M382.3,83.3v3.2M381.3,92.6h3.2M382.9,91.0v3.2M382.0,88.9h3.2M383.6,87.3v3.2M382.6,97.3h3.2M384.2,95.7v3.2M383.2,96.9h3.2M384.8,95.3v3.2M383.8,96.1h3.2M385.4,94.5v3.2M384.5,101.2h3.2M386.1,99.6v3.2M385.1,101.9h3.2M386.7,100.3v3.2M385.7,95.4h3.2M387.3,93.8v3.2M386.3,99.1h3.2M387.9,97.5v3.2M386.9,100.9h3.2M388.5,99.3v3.2M387.6,95.5h3.2M389.2,93.9v3.2M388.2,98.7h3.2M389.8,97.1v3.2M388.8,101.4h3.2M390.4,99.8v3.2M389.4,95.8h3.2M391.0,94.2v3.2M390.1,95.7h3.2M391.7,94.1v3.2M390.7,97.1h3.2M392.3,95.5v3.2M391.3,95.4h3.2M392.9,93.8v3.2M391.9,98.9h3.2M393.5,97.3v3.2M392.6,98.0h3.2M394.2,96.4v3.2M393.2,91.9h3.2M394.8,90.3v3.2M393.8,87.8h3.2M395.4,86.2v3.2M394.4,87.7h3.2M396.0,86.1v3.2M395.1,90.6h3.2M396.7,89.0v3.2M395.7,89.9h3.2M397.3,88.3v3.2M396.3,91.4h3.2M397.9,89.8v3.2M396.9,85.5h3.2M398.5,83.9v3.2M397.6,91.2h3.2M399.2,89.6v3.2M398.2,89.5h3.2M399.8,87.9v3.2M398.8,89.8h3.2M400.4,88.2v3.2M399.4,90.2h3.2M401.0,88.6v3.2M400.1,89.1h3.2M401.7,87.5v3.2M400.7,90.2h3.2M402.3,88.6v3.2M401.3,90.0h3.2M402.9,88.4v3.2M401.9,91.1h3.2M403.5,89.5v3.2M402.5,92.0h3.2M404.1,90.4v3.2M403.2,95.0h3.2M404.8,93.4v3.2M403.8,91.6h3.2M405.4,90.0v3.2M404.4,91.2h3.2M406.0,89.6v3.2M405.0,91.2h3.2M406.6,89.6v3.2M405.7,91.3h3.2M407.3,89.7v3.2M406.3,85.9h3.2M407.9,84.3v3.2M406.9,86.5h3.2M408.5,84.9v3.2M407.5,93.1h3.2M409.1,91.5v3.2M408.2,90.4h3.2M409.8,88.8v3.2M408.8,92.3h3.2M410.4,90.7v3.2M409.4,91.7h3.2M411.0,90.1v3.2M410.0,93.9h3.2M411.6,92.3v3.2M410.7,85.8h3.2M412.3,84.2v3.2M411.3,95.9h3.2M412.9,94.3v3.2M411.9,86.5h3.2M413.5,84.9v3.2M412.5,87.8h3.2M414.1,86.2v3.2M413.2,95.9h3.2M414.8,94.3v3.2M413.8,92.9h3.2M415.4,91.3v3.2M414.4,90.0h3.2M416.0,88.4v3.2M415.0,85.2h3.2M416.6,83.6v3.2M415.7,95.3h3.2M417.3,93.7v3.2M416.3,93.4h3.2M417.9,91.8v3.2M416.9,91.0h3.2M418.5,89.4v3.2M417.5,87.2h3.2M419.1,85.6v3.2M418.2,91.6h3.2M419.8,90.0v3.2M418.8,85.5h3.2M420.4,83.9v3.2M419.4,89.8h3.2M421.0,88.2v3.2M420.0,88.1h3.2M421.6,86.5v3.2M420.6,99.1h3.2M422.2,97.5v3.2M421.3,97.0h3.2M422.9,95.4v3.2M421.9,93.4h3.2M423.5,91.8v3.2M422.5,91.2h3.2M424.1,89.6v3.2M423.1,91.4h3.2M424.7,89.8v3.2M423.8,89.8h3.2M425.4,88.2v3.2M424.4,97.9h3.2M426.0,96.3v3.2M425.0,97.7h3.2M426.6,96.1v3.2M425.6,98.0h3.2M427.2,96.4v3.2M426.3,101.1h3.2M427.9,99.5v3.2M426.9,93.8h3.2M428.5,92.2v3.2M427.5,101.1h3.2M429.1,99.5v3.2M428.1,98.0h3.2M429.7,96.4v3.2M428.8,98.1h3.2M430.4,96.5v3.2M429.4,97.6h3.2M431.0,96.0v3.2M430.0,93.4h3.2M431.6,91.8v3.2M430.6,102.8h3.2M432.2,101.2v3.2M431.3,107.5h3.2M432.9,105.9v3.2M431.9,108.5h3.2M433.5,106.9v3.2M432.5,106.7h3.2M434.1,105.1v3.2M433.1,109.3h3.2M434.7,107.7v3.2M433.8,103.0h3.2M435.4,101.4v3.2M434.4,110.4h3.2M436.0,108.8v3.2M435.0,107.1h3.2M436.6,105.5v3.2M435.6,107.5h3.2M437.2,105.9v3.2M436.2,101.8h3.2M437.8,100.2v3.2M436.9,109.2h3.2M438.5,107.6v3.2M437.5,102.2h3.2M439.1,100.6v3.2M438.1,104.8h3.2M439.7,103.2v3.2M438.7,101.2h3.2M440.3,99.6v3.2M439.4,108.7h3.2M441.0,107.1v3.2M440.0,110.0h3.2M441.6,108.4v3.2M440.6,115.6h3.2M442.2,114.0v3.2M441.2,110.5h3.2M442.8,108.9v3.2M441.9,107.3h3.2M443.5,105.7v3.2M442.5,109.1h3.2M444.1,107.5v3.2M443.1,112.2h3.2M444.7,110.6v3.2M443.7,114.5h3.2M445.3,112.9v3.2M444.4,116.7h3.2M446.0,115.1v3.2M445.0,120.8h3.2M446.6,119.2v3.2M445.6,112.6h3.2M447.2,111.0v3.2M446.2,119.4h3.2M447.8,117.8v3.2M446.9,113.6h3.2M448.5,112.0v3.2M447.5,109.6h3.2M449.1,108.0v3.2M448.1,115.0h3.2M449.7,113.4v3.2M448.7,122.9h3.2M450.3,121.3v3.2M449.4,119.4h3.2M451.0,117.8v3.2M450.0,116.5h3.2M451.6,114.9v3.2M450.6,115.4h3.2M452.2,113.8v3.2M451.2,119.6h3.2M452.8,118.0v3.2M451.8,115.1h3.2M453.4,113.5v3.2M452.5,122.3h3.2M454.1,120.7v3.2M453.1,115.9h3.2M454.7,114.3v3.2M453.7,111.6h3.2M455.3,110.0v3.2M454.3,121.4h3.2M455.9,119.8v3.2M455.0,115.9h3.2M456.6,114.3v3.2M455.6,116.0h3.2M457.2,114.4v3.2M456.2,119.7h3.2M457.8,118.1v3.2M456.8,120.7h3.2M458.4,119.1v3.2M457.5,111.9h3.2M459.1,110.3v3.2M458.1,118.8h3.2M459.7,117.2v3.2M458.7,117.1h3.2M460.3,115.5v3.2M459.3,120.6h3.2M460.9,119.0v3.2M460.0,115.6h3.2M461.6,114.0v3.2M460.6,123.5h3.2M462.2,121.9v3.2M461.2,118.7h3.2M462.8,117.1v3.2M461.8,122.7h3.2M463.4,121.1v3.2M462.5,124.1h3.2M464.1,122.5v3.2M463.1,122.0h3.2M464.7,120.4v3.2M463.7,134.4h3.2M465.3,132.8v3.2M464.3,124.5h3.2M465.9,122.9v3.2M465.0,127.5h3.2M466.6,125.9v3.2M465.6,125.0h3.2M467.2,123.4v3.2M466.2,124.0h3.2M467.8,122.4v3.2M466.8,127.4h3.2M468.4,125.8v3.2M467.5,121.3h3.2M469.1,119.7v3.2M468.1,121.0h3.2M469.7,119.4v3.2M468.7,132.1h3.2M470.3,130.5v3.2M469.3,121.6h3.2M470.9,120.0v3.2M469.9,120.6h3.2M471.5,119.0v3.2M470.6,124.5h3.2M472.2,122.9v3.2M471.2,130.7h3.2M472.8,129.1v3.2M471.8,126.2h3.2M473.4,124.6v3.2M472.4,124.1h3.2M474.0,122.5v3.2M473.1,126.8h3.2M474.7,125.2v3.2M473.7,130.1h3.2M475.3,128.5v3.2M474.3,127.7h3.2M475.9,126.1v3.2M474.9,121.2h3.2M476.5,119.6v3.2M475.6,128.7h3.2M477.2,127.1v3.2M476.2,134.5h3.2M477.8,132.9v3.2M476.8,134.3h3.2M478.4,132.7v3.2M477.4,133.6h3.2M479.0,132.0v3.2M478.1,130.6h3.2M479.7,129.0v3.2M478.7,129.9h3.2M480.3,128.3v3.2M479.3,133.2h3.2M480.9,131.6v3.2M479.9,134.4h3.2M481.5,132.8v3.2M480.6,124.2h3.2M482.2,122.6v3.2M481.2,127.4h3.2M482.8,125.8v3.2M481.8,129.2h3.2M483.4,127.6v3.2M482.4,125.3h3.2M484.0,123.7v3.2M483.1,125.4h3.2M484.7,123.8v3.2M483.7,121.3h3.2M485.3,119.7v3.2M484.3,125.4h3.2M485.9,123.8v3.2M484.9,126.7h3.2M486.5,125.1v3.2M485.5,128.9h3.2M487.1,127.3v3.2M486.2,122.0h3.2M487.8,120.4v3.2M486.8,125.5h3.2M488.4,123.9v3.2M487.4,132.1h3.2M489.0,130.5v3.2M488.0,134.0h3.2M489.6,132.4v3.2M488.7,127.0h3.2M490.3,125.4v3.2M489.3,121.7h3.2M490.9,120.1v3.2M489.9,127.1h3.2M491.5,125.5v3.2M490.5,125.3h3.2M492.1,123.7v3.2M491.2,125.4h3.2M492.8,123.8v3.2M491.8,123.4h3.2M493.4,121.8v3.2M492.4,123.4h3.2M494.0,121.8v3.2M493.0,127.0h3.2M494.6,125.4v3.2M493.7,121.0h3.2M495.3,119.4v3.2M494.3,123.9h3.2M495.9,122.3v3.2M494.9,128.2h3.2M496.5,126.6v3.2M495.5,127.9h3.2M497.1,126.3v3.2M496.2,125.8h3.2M497.8,124.2v3.2M496.8,130.4h3.2M498.4,128.8v3.2M497.4,121.1h3.2M499.0,119.5v3.2M498.0,127.5h3.2M499.6,125.9v3.2M498.7,125.6h3.2M500.3,124.0v3.2M499.3,125.1h3.2M500.9,123.5v3.2M499.9,127.0h3.2M501.5,125.4v3.2M500.5,131.9h3.2M502.1,130.3v3.2M501.1,128.6h3.2M502.7,127.0v3.2M501.8,126.8h3.2M503.4,125.2v3.2M502.4,132.9h3.2M504.0,131.3v3.2M503.0,132.1h3.2M504.6,130.5v3.2M503.6,127.0h3.2M505.2,125.4v3.2M504.3,126.6h3.2M505.9,125.0v3.2M504.9,120.0h3.2M506.5,118.4v3.2M505.5,122.0h3.2M507.1,120.4v3.2M506.1,125.3h3.2M507.7,123.7v3.2M506.8,129.0h3.2M508.4,127.4v3.2M507.4,127.7h3.2M509.0,126.1v3.2M508.0,127.8h3.2M509.6,126.2v3.2M508.6,124.8h3.2M510.2,123.2v3.2M509.3,119.0h3.2M510.9,117.4v3.2M509.9,122.2h3.2M511.5,120.6v3.2M510.5,119.9h3.2M512.1,118.3v3.2M511.1,124.1h3.2M512.7,122.5v3.2M511.8,125.4h3.2M513.4,123.8v3.2M512.4,124.3h3.2M514.0,122.7v3.2M513.0,128.7h3.2M514.6,127.1v3.2M513.6,119.4h3.2M515.2,117.8v3.2M514.3,129.7h3.2M515.9,128.1v3.2M514.9,121.5h3.2M516.5,119.9v3.2M515.5,121.9h3.2M517.1,120.3v3.2M516.1,117.4h3.2M517.7,115.8v3.2M516.8,116.3h3.2M518.4,114.7v3.2M517.4,122.1h3.2M519.0,120.5v3.2M518.0,123.8h3.2M519.6,122.2v3.2M518.6,119.6h3.2M520.2,118.0v3.2M519.2,120.0h3.2M520.8,118.4v3.2M519.9,117.3h3.2M521.5,115.7v3.2M520.5,124.2h3.2M522.1,122.6v3.2M521.1,122.8h3.2M522.7,121.2v3.2M521.7,123.0h3.2M523.3,121.4v3.2M522.4,116.6h3.2M524.0,115.0v3.2M523.0,111.0h3.2M524.6,109.4v3.2M523.6,120.3h3.2M525.2,118.7v3.2M524.2,115.6h3.2M525.8,114.0v3.2M524.9,117.3h3.2M526.5,115.7v3.2M525.5,113.8h3.2M527.1,112.2v3.2M526.1,114.5h3.2M527.7,112.9v3.2M526.7,113.6h3.2M528.3,112.0v3.2M527.4,112.8h3.2M529.0,111.2v3.2M528.0,112.7h3.2M529.6,111.1v3.2M528.6,112.1h3.2M530.2,110.5v3.2M529.2,112.3h3.2M530.8,110.7v3.2M529.9,106.5h3.2M531.5,104.9v3.2M530.5,113.3h3.2M532.1,111.7v3.2M531.1,108.8h3.2M532.7,107.2v3.2M531.7,111.0h3.2M533.3,109.4v3.2M532.4,115.0h3.2M534.0,113.4v3.2M533.0,114.8h3.2M534.6,113.2v3.2M533.6,111.4h3.2M535.2,109.8v3.2M534.2,116.6h3.2M535.8,115.0v3.2M534.8,107.1h3.2M536.4,105.5v3.2M535.5,110.5h3.2M537.1,108.9v3.2M536.1,106.5h3.2M537.7,104.9v3.2M536.7,103.8h3.2M538.3,102.2v3.2M537.3,107.3h3.2M538.9,105.7v3.2M538.0,108.7h3.2M539.6,107.1v3.2M538.6,105.4h3.2M540.2,103.8v3.2M539.2,107.4h3.2M540.8,105.8v3.2M539.8,108.5h3.2M541.4,106.9v3.2M540.5,103.2h3.2M542.1,101.6v3.2M541.1,108.8h3.2M542.7,107.2v3.2M541.7,111.2h3.2M543.3,109.6v3.2M542.3,110.0h3.2M543.9,108.4v3.2M543.0,109.5h3.2M544.6,107.9v3.2M543.6,108.8h3.2M545.2,107.2v3.2M544.2,115.0h3.2M545.8,113.4v3.2M544.8,112.8h3.2M546.4,111.2v3.2M545.5,107.7h3.2M547.1,106.1v3.2M546.1,105.7h3.2M547.7,104.1v3.2M546.7,105.9h3.2M548.3,104.3v3.2M547.3,109.2h3.2M548.9,107.6v3.2M548.0,105.6h3.2M549.6,104.0v3.2M548.6,113.7h3.2M550.2,112.1v3.2M549.2,106.9h3.2M550.8,105.3v3.2M549.8,107.8h3.2M551.4,106.2v3.2M550.4,107.6h3.2M552.0,106.0v3.2M551.1,113.0h3.2M552.7,111.4v3.2M551.7,110.8h3.2M553.3,109.2v3.2M552.3,104.2h3.2M553.9,102.6v3.2M552.9,112.2h3.2M554.5,110.6v3.2M553.6,106.7h3.2M555.2,105.1v3.2M554.2,103.0h3.2M555.8,101.4v3.2M554.8,103.2h3.2M556.4,101.6v3.2M555.4,107.9h3.2M557.0,106.3v3.2M556.1,100.2h3.2M557.7,98.6v3.2M556.7,108.8h3.2M558.3,107.2v3.2M557.3,103.6h3.2M558.9,102.0v3.2M557.9,107.7h3.2M559.5,106.1v3.2M558.6,111.6h3.2M560.2,110.0v3.2M559.2,106.7h3.2M560.8,105.1v3.2M559.8,103.3h3.2M561.4,101.7v3.2M560.4,108.8h3.2M562.0,107.2v3.2M561.1,105.6h3.2M562.7,104.0v3.2M561.7,103.7h3.2M563.3,102.1v3.2M562.3,102.3h3.2M563.9,100.7v3.2M562.9,98.6h3.2M564.5,97.0v3.2M563.6,100.4h3.2M565.2,98.8v3.2M564.2,96.0h3.2M565.8,94.4v3.2M564.8,97.5h3.2M566.4,95.9v3.2M565.4,101.8h3.2M567.0,100.2v3.2M566.1,104.6h3.2M567.7,103.0v3.2M566.7,101.7h3.2M568.3,100.1v3.2M567.3,102.4h3.2M568.9,100.8v3.2M567.9,102.2h3.2M569.5,100.6v3.2M568.5,111.5h3.2M570.1,109.9v3.2M569.2,104.4h3.2M570.8,102.8v3.2M569.8,102.7h3.2M571.4,101.1v3.2M570.4,110.6h3.2M572.0,109.0v3.2M571.0,107.8h3.2M572.6,106.2v3.2M571.7,106.6h3.2M573.3,105.0v3.2M572.3,107.4h3.2M573.9,105.8v3.2M572.9,108.8h3.2M574.5,107.2v3.2M573.5,113.2h3.2M575.1,111.6v3.2M574.2,114.1h3.2M575.8,112.5v3.2M574.8,109.6h3.2M576.4,108.0v3.2M575.4,114.7h3.2M577.0,113.1v3.2M576.0,106.7h3.2M577.6,105.1v3.2M576.7,110.3h3.2M578.3,108.7v3.2M577.3,114.1h3.2M578.9,112.5v3.2M577.9,104.8h3.2M579.5,103.2v3.2M578.5,109.4h3.2M580.1,107.8v3.2M579.2,107.3h3.2M580.8,105.7v3.2M579.8,112.2h3.2M581.4,110.6v3.2M580.4,110.3h3.2M582.0,108.7v3.2M581.0,110.0h3.2M582.6,108.4v3.2M581.7,105.5h3.2M583.3,103.9v3.2M582.3,108.1h3.2M583.9,106.5v3.2M582.9,109.6h3.2M584.5,108.0v3.2M583.5,115.4h3.2M585.1,113.8v3.2M584.1,110.5h3.2M585.7,108.9v3.2M584.8,107.4h3.2M586.4,105.8v3.2M585.4,114.6h3.2M587.0,113.0v3.2M586.0,115.3h3.2M587.6,113.7v3.2M586.6,113.7h3.2M588.2,112.1v3.2M587.3,116.8h3.2M588.9,115.2v3.2M587.9,112.8h3.2M589.5,111.2v3.2M588.5,106.4h3.2M590.1,104.8v3.2M589.1,106.8h3.2M590.7,105.2v3.2M589.8,111.0h3.2M591.4,109.4v3.2M590.4,108.4h3.2M592.0,106.8v3.2M591.0,111.7h3.2M592.6,110.1v3.2M591.6,108.2h3.2M593.2,106.6v3.2M592.3,105.3h3.2M593.9,103.7v3.2M592.9,110.8h3.2M594.5,109.2v3.2M593.5,108.7h3.2M595.1,107.1v3.2M594.1,109.0h3.2M595.7,107.4v3.2M594.8,112.7h3.2M596.4,111.1v3.2M595.4,107.2h3.2M597.0,105.6v3.2M596.0,110.7h3.2M597.6,109.1v3.2M596.6,112.7h3.2M598.2,111.1v3.2M597.3,104.3h3.2M598.9,102.7v3.2M597.9,107.1h3.2M599.5,105.5v3.2M598.5,106.7h3.2M600.1,105.1v3.2M599.1,102.6h3.2M600.7,101.0v3.2M599.7,113.4h3.2M601.3,111.8v3.2M600.4,111.6h3.2M602.0,110.0v3.2M601.0,103.1h3.2M602.6,101.5v3.2M601.6,107.1h3.2M603.2,105.5v3.2M602.2,109.0h3.2M603.8,107.4v3.2M602.9,103.3h3.2M604.5,101.7v3.2M603.5,107.8h3.2M605.1,106.2v3.2M604.1,111.9h3.2M605.7,110.3v3.2M604.7,105.6h3.2M606.3,104.0v3.2M605.4,101.9h3.2M607.0,100.3v3.2M606.0,106.1h3.2M607.6,104.5v3.2M606.6,103.3h3.2M608.2,101.7v3.2M607.2,106.8h3.2M608.8,105.2v3.2M607.9,103.1h3.2M609.5,101.5v3.2M608.5,106.4h3.2M610.1,104.8v3.2M609.1,104.4h3.2M610.7,102.8v3.2M609.7,106.2h3.2M611.3,104.6v3.2M610.4,103.5h3.2M612.0,101.9v3.2M611.0,103.3h3.2M612.6,101.7v3.2M611.6,103.4h3.2M613.2,101.8v3.2M612.2,99.3h3.2M613.8,97.7v3.2M612.9,103.0h3.2M614.5,101.4v3.2M613.5,102.2h3.2M615.1,100.6v3.2M614.1,102.9h3.2M615.7,101.3v3.2M614.7,103.0h3.2M616.3,101.4v3.2M615.3,101.0h3.2M616.9,99.4v3.2M616.0,101.6h3.2M617.6,100.0v3.2M616.6,103.7h3.2M618.2,102.1v3.2M617.2,97.6h3.2M618.8,96.0v3.2M617.8,101.8h3.2M619.4,100.2v3.2M618.5,99.4h3.2M620.1,97.8v3.2M619.1,101.0h3.2M620.7,99.4v3.2M619.7,99.9h3.2M621.3,98.3v3.2M620.3,96.1h3.2M621.9,94.5v3.2M621.0,100.0h3.2M622.6,98.4v3.2M621.6,99.2h3.2M623.2,97.6v3.2M622.2,94.3h3.2M623.8,92.7v3.2M622.8,95.9h3.2M624.4,94.3v3.2M623.5,93.8h3.2M625.1,92.2v3.2M624.1,97.9h3.2M625.7,96.3v3.2M624.7,94.2h3.2M626.3,92.6v3.2M625.3,99.8h3.2M626.9,98.2v3.2M626.0,100.5h3.2M627.6,98.9v3.2M626.6,98.6h3.2M628.2,97.0v3.2M627.2,104.3h3.2M628.8,102.7v3.2M627.8,100.6h3.2M629.4,99.0v3.2M628.5,106.7h3.2M630.1,105.1v3.2M629.1,102.8h3.2M630.7,101.2v3.2M629.7,101.0h3.2M631.3,99.4v3.2M630.3,102.7h3.2M631.9,101.1v3.2M631.0,106.5h3.2M632.6,104.9v3.2M631.6,101.6h3.2M633.2,100.0v3.2M632.2,105.0h3.2M633.8,103.4v3.2M632.8,102.5h3.2M634.4,100.9v3.2M633.4,97.3h3.2M635.0,95.7v3.2M634.1,96.5h3.2M635.7,94.9v3.2M634.7,108.2h3.2M636.3,106.6v3.2M635.3,102.6h3.2M636.9,101.0v3.2M635.9,104.1h3.2M637.5,102.5v3.2M636.6,103.2h3.2M638.2,101.6v3.2M637.2,101.7h3.2M638.8,100.1v3.2M637.8,104.3h3.2M639.4,102.7v3.2M638.4,108.8h3.2M640.0,107.2v3.2M639.1,112.0h3.2M640.7,110.4v3.2M639.7,112.2h3.2M641.3,110.6v3.2M640.3,107.4h3.2M641.9,105.8v3.2M640.9,111.6h3.2M642.5,110.0v3.2M641.6,107.2h3.2M643.2,105.6v3.2M642.2,109.5h3.2M643.8,107.9v3.2M642.8,111.0h3.2M644.4,109.4v3.2M643.4,122.5h3.2M645.0,120.9v3.2M644.1,117.1h3.2M645.7,115.5v3.2M644.7,120.3h3.2M646.3,118.7v3.2M645.3,123.6h3.2M646.9,122.0v3.2M645.9,122.5h3.2M647.5,120.9v3.2M646.6,118.1h3.2M648.2,116.5v3.2M647.2,116.9h3.2M648.8,115.3v3.2M647.8,118.2h3.2M649.4,116.6v3.2M648.4,126.2h3.2M650.0,124.6v3.2M649.0,125.4h3.2M650.6,123.8v3.2M649.7,130.4h3.2M651.3,128.8v3.2M650.3,133.0h3.2M651.9,131.4v3.2M651.5,134.8h3.2M653.1,133.2v3.2M652.8,141.5h3.2M654.4,139.9v3.2M654.0,149.9h3.2M655.6,148.3v3.2M655.3,149.5h3.2M656.9,147.9v3.2M656.5,157.1h3.2M658.1,155.5v3.2M657.8,162.5h3.2M659.4,160.9v3.2M659.0,169.2h3.2M660.6,167.6v3.2M660.3,174.2h3.2M661.9,172.6v3.2M661.5,178.6h3.2M663.1,177.0v3.2M662.8,190.1h3.2M664.4,188.5v3.2M664.0,197.3h3.2M665.6,195.7v3.2M665.3,208.9h3.2M666.9,207.3v3.2M666.5,217.6h3.2M668.1,216.0v3.2M667.8,225.0h3.2M669.4,223.4v3.2M669.0,229.0h3.2M670.6,227.4v3.2M670.3,235.8h3.2M671.9,234.2v3.2M671.5,245.3h3.2M673.1,243.7v3.2M672.8,252.0h3.2M674.4,250.4v3.2M674.0,258.8h3.2M675.6,257.2v3.2M675.3,274.7h3.2M676.9,273.1v3.2M676.5,272.4h3.2M678.1,270.8v3.2M677.8,287.2h3.2M679.4,285.6v3.2M679.0,303.8h3.2M680.6,302.2v3.2M680.3,303.8h3.2M681.9,302.2v3.2M681.5,315.3h3.2M683.1,313.7v3.2M682.7,324.4h3.2M684.3,322.8v3.2M684.0,333.8h3.2M685.6,332.2v3.2M685.2,337.8h3.2M686.8,336.2v3.2M686.5,348.5h3.2M688.1,346.9v3.2M687.7,356.5h3.2M689.3,354.9v3.2M689.0,361.5h3.2M690.6,359.9v3.2M689.6,365.0h3.2M691.2,363.4v3.2M690.2,366.9h3.2M691.8,365.3v3.2M690.9,367.9h3.2M692.5,366.3v3.2M691.5,370.0h3.2M693.1,368.4v3.2M692.1,371.3h3.2M693.7,369.7v3.2M692.7,374.2h3.2M694.3,372.6v3.2M693.4,377.0h3.2M695.0,375.4v3.2M694.0,376.0h3.2M695.6,374.4v3.2M694.6,374.9h3.2M696.2,373.3v3.2M695.2,373.0h3.2M696.8,371.4v3.2M695.9,371.9h3.2M697.5,370.3v3.2M696.5,371.3h3.2M698.1,369.7v3.2M697.1,289.0h3.2M698.7,287.4v3.2" fill="none" stroke="#000" stroke-width="0.9"/>
<!-- labels -->
<g text-anchor="end" style="font-size:12.8px">
<text x="50.2" y="40.2">-20.0</text>
<text x="50.2" y="88.5">-20.5</text>
<text x="50.2" y="136.7">-21.0</text>
<text x="50.2" y="185.0">-21.5</text>
<text x="50.2" y="233.2">-22.0</text>
<text x="50.2" y="281.5">-22.5</text>
<text x="50.2" y="329.8">-23.0</text>
<text x="50.2" y="378.0">-23.5</text>
</g>
<g text-anchor="middle">
<text x="69.5" y="406.5">33760</text>
<text x="169.3" y="406.5">33780</text>
<text x="269.1" y="406.5">33800</text>
<text x="368.9" y="406.5">33820</text>
<text x="468.7" y="406.5">33840</text>
<text x="568.5" y="406.5">33860</text>
<text x="668.3" y="406.5">33880</text>
</g>
<text x="347.6" y="418.8">FREQ</text>
<text x="394.8" y="418.8">MHz</text>
<text x="60.0" y="432.4" textLength="241" lengthAdjust="spacingAndGlyphs">Scalar averaged cross-power spectrum</text>
<text x="316.5" y="432.4" textLength="168.3" lengthAdjust="spacingAndGlyphs">Several baselines averaged</text>
<text x="73.7" y="381.2">IF 7(RR)</text>
<text transform="translate(13.6,247.5) rotate(-90)" x="0" y="0" textLength="111.6" lengthAdjust="spacing">10*Log10(Amp) Jy</text>
</svg>
</body>
</html>
